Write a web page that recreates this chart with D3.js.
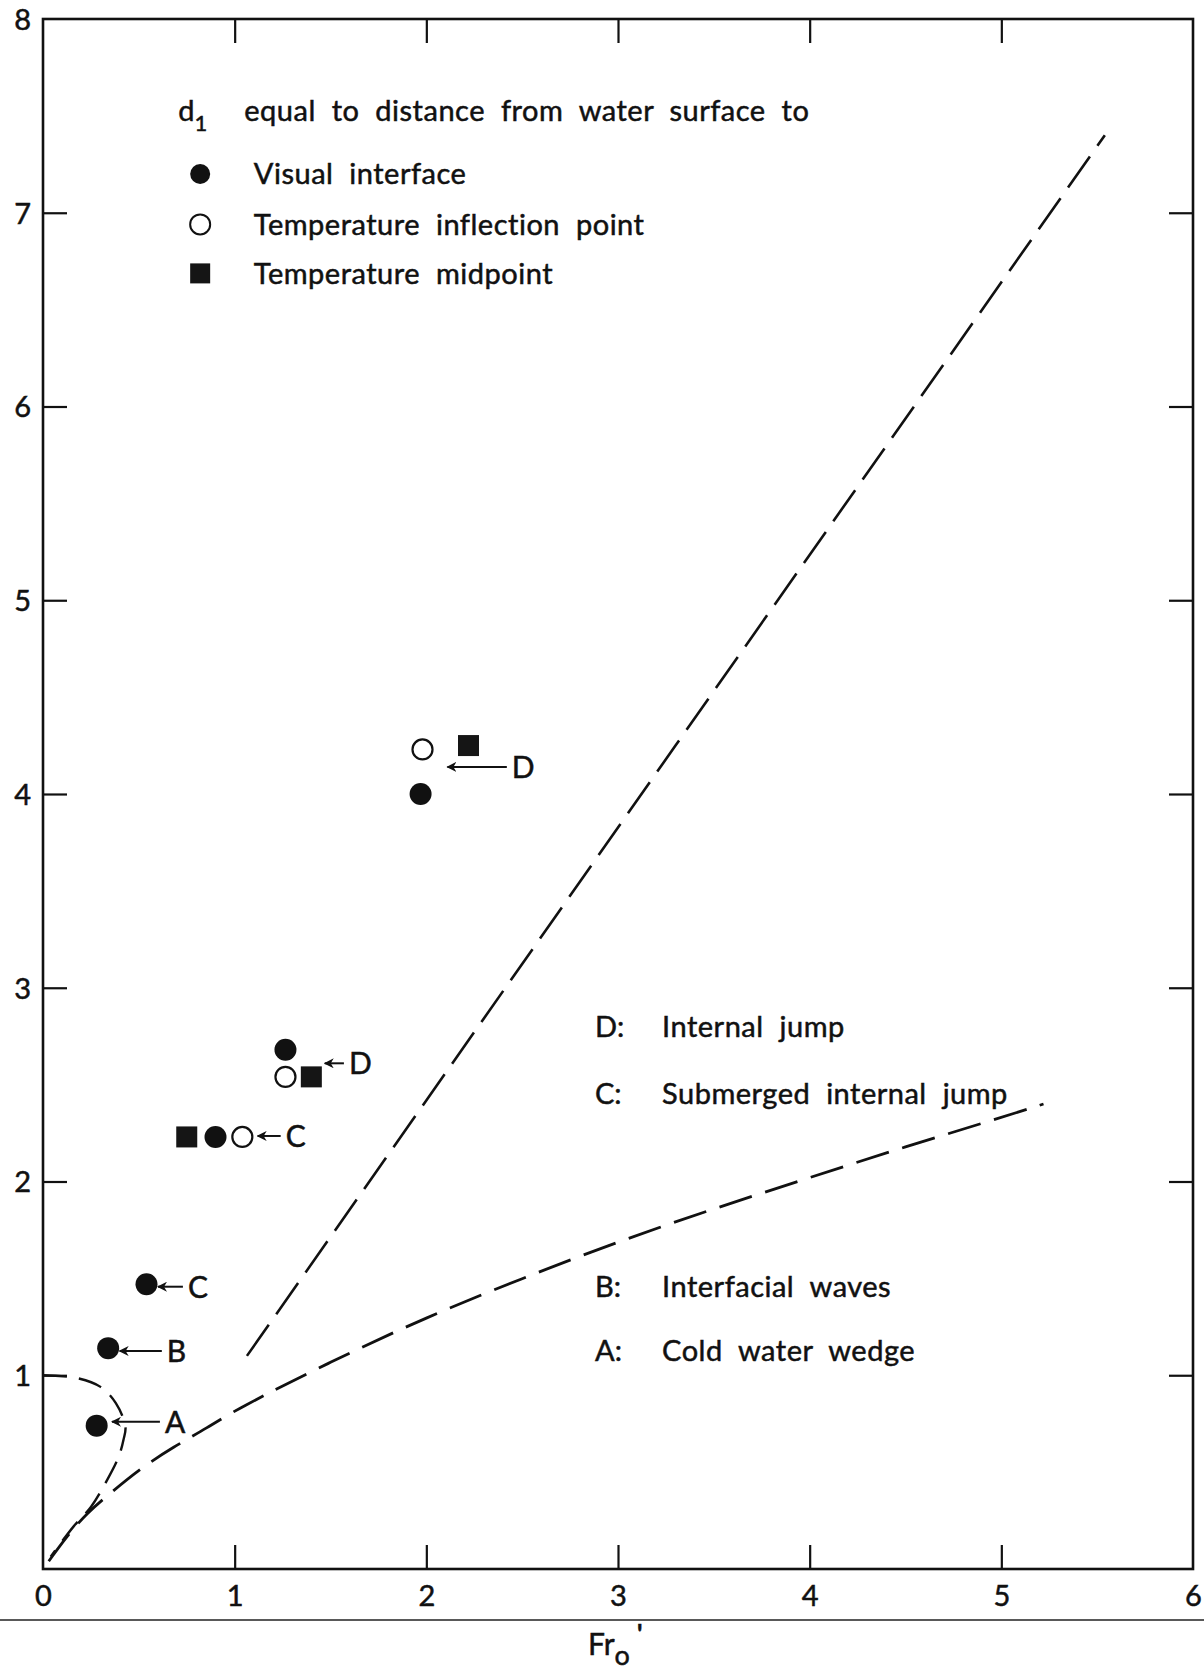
<!DOCTYPE html>
<html>
<head>
<meta charset="utf-8">
<script src="https://cdn.jsdelivr.net/npm/d3@7"></script>
<style>
  body { margin: 0; background: #fff; }
  svg text { font-family: "Lato", "DejaVu Sans", sans-serif; fill: #111; stroke: #111; stroke-width: 0.5px; }
</style>
</head>
<body>
<div id="chart"></div>
<script>
// values (x = Fr_o', y = depth ratio)
var xTicks = [0, 1, 2, 3, 4, 5, 6];
var yTicks = [1, 2, 3, 4, 5, 6, 7, 8];

var visualInterface = [[1.97, 4.00], [1.265, 2.68], [0.90, 2.23], [0.54, 1.47], [0.34, 1.14], [0.28, 0.74]];
var inflectionPoint = [[1.98, 4.23], [1.265, 2.54], [1.04, 2.23]];
var tempMidpoint = [[2.22, 4.25], [1.40, 2.54], [0.75, 2.23]];

// dashed boundary curves
var upperBoundary = [[1.064, 1.10], [3.30, 4.25], [5.54, 7.40]];
var lowerBoundary = [[0.03, 0.04], [0.125, 0.17], [0.23, 0.29], [0.35, 0.39], [0.51, 0.52], [0.68, 0.63],
  [0.86, 0.73], [1.0, 0.82], [1.5, 1.07], [2.0, 1.30], [2.5, 1.50], [3.0, 1.69], [3.5, 1.86],
  [4.0, 2.02], [4.5, 2.18], [5.0, 2.33], [5.22, 2.40]];
var wedgeBoundary = [[0.0, 1.0], [0.18, 0.985], [0.30, 0.94], [0.38, 0.856], [0.43, 0.735], [0.42, 0.667],
  [0.395, 0.58], [0.335, 0.46], [0.25, 0.32], [0.16, 0.22], [0.04, 0.064]];

// point labels with arrows: [label, arrow start x, arrow end x, y]
var pointLabels = [
  ["D", 2.42, 2.11, 4.14],
  ["D", 1.57, 1.47, 2.61],
  ["C", 1.24, 1.12, 2.235],
  ["C", 0.73, 0.60, 1.457],
  ["B", 0.62, 0.40, 1.125],
  ["A", 0.61, 0.36, 0.76]
];

var regionKeys = ["D:", "C:", "B:", "A:"];
var regionNames = ["Internal jump", "Submerged internal jump", "Interfacial waves", "Cold water wedge"];
var regionY = [2.80, 2.455, 1.46, 1.125];

var legendNames = ["Visual interface", "Temperature inflection point", "Temperature midpoint"];

var W = 1204, H = 1673;
var margin = {top: 19, right: 11, bottom: 104, left: 43},
    width = W - margin.left - margin.right,
    height = H - margin.top - margin.bottom;

var svg = d3.select("#chart").append("svg")
  .attr("width", W)
  .attr("height", H);

var g = svg.append("g")
  .attr("transform", "translate(" + margin.left + "," + margin.top + ")");

var x = d3.scaleLinear().domain([0, 6]).range([0, width]);
var y = d3.scaleLinear().domain([0, 8]).range([height, 0]);

var tickLen = 24;

// bottom axis, ticks pointing in
var axBottom = g.append("g")
  .attr("transform", "translate(0," + height + ")")
  .call(d3.axisBottom(x).tickValues(xTicks).tickSize(-tickLen).tickPadding(16).tickFormat(d3.format("d")));
// left axis
var axLeft = g.append("g")
  .call(d3.axisLeft(y).tickValues(yTicks).tickSize(-tickLen).tickPadding(12).tickFormat(d3.format("d")));
// top / right, ticks only
var axTop = g.append("g")
  .call(d3.axisTop(x).tickValues([1, 2, 3, 4, 5]).tickSize(-tickLen).tickFormat(""));
var axRight = g.append("g")
  .attr("transform", "translate(" + width + ",0)")
  .call(d3.axisRight(y).tickValues([1, 2, 3, 4, 5, 6, 7]).tickSize(-tickLen).tickFormat(""));

[axBottom, axLeft, axTop, axRight].forEach(function(a) {
  a.select(".domain").remove();
  a.selectAll(".tick line").attr("stroke", "#111").attr("stroke-width", 2.2);
  a.selectAll("text").style("font-size", "29px").attr("fill", "#111");
});
axBottom.selectAll(".tick").filter(function(d) { return d === 0 || d === 6; }).select("line").remove();
axLeft.selectAll(".tick").filter(function(d) { return d === 8; }).select("line").remove();
axLeft.selectAll(".tick text").attr("dy", "0.36em");

// frame
g.append("rect")
  .attr("x", 0).attr("y", 0)
  .attr("width", width).attr("height", height)
  .attr("fill", "none")
  .attr("stroke", "#111")
  .attr("stroke-width", 2.6);

// rule under the axis labels
svg.append("line")
  .attr("x1", 0).attr("x2", W)
  .attr("y1", 1620).attr("y2", 1620)
  .attr("stroke", "#222").attr("stroke-width", 1.5);

// x axis title Fr_o'
var xt = svg.append("text")
  .attr("x", margin.left + x(3) - 30)
  .attr("y", 1655)
  .style("font-size", "30px");
xt.append("tspan").text("Fr");
xt.append("tspan").attr("dy", 10).style("font-size", "27px").text("o");
xt.append("tspan").attr("dy", -22).attr("dx", 7).style("font-size", "26px").style("font-weight", "bold").text("'");

// dashed curves
var line = d3.line()
  .x(function(d) { return x(d[0]); })
  .y(function(d) { return y(d[1]); });

g.append("path")
  .datum(upperBoundary)
  .attr("d", line)
  .attr("fill", "none").attr("stroke", "#111").attr("stroke-width", 2.6)
  .attr("stroke-dasharray", "38,13");

g.append("path")
  .datum(lowerBoundary)
  .attr("d", d3.line().x(function(d) { return x(d[0]); }).y(function(d) { return y(d[1]); }).curve(d3.curveBasis))
  .attr("fill", "none").attr("stroke", "#111").attr("stroke-width", 2.8)
  .attr("stroke-dasharray", "34,14");

g.append("path")
  .datum(wedgeBoundary)
  .attr("d", d3.line().x(function(d) { return x(d[0]); }).y(function(d) { return y(d[1]); }).curve(d3.curveCatmullRom))
  .attr("fill", "none").attr("stroke", "#111").attr("stroke-width", 2.4)
  .attr("stroke-dasharray", "24,12");

// points
var r = 11, sq = 21;
g.selectAll(".vis")
  .data(visualInterface)
  .enter().append("circle")
  .attr("cx", function(d) { return x(d[0]); })
  .attr("cy", function(d) { return y(d[1]); })
  .attr("r", r)
  .attr("fill", "#111");

g.selectAll(".infl")
  .data(inflectionPoint)
  .enter().append("circle")
  .attr("cx", function(d) { return x(d[0]); })
  .attr("cy", function(d) { return y(d[1]); })
  .attr("r", r - 1)
  .attr("fill", "#fff")
  .attr("stroke", "#111")
  .attr("stroke-width", 2.2);

g.selectAll(".mid")
  .data(tempMidpoint)
  .enter().append("rect")
  .attr("x", function(d) { return x(d[0]) - sq / 2; })
  .attr("y", function(d) { return y(d[1]) - sq / 2; })
  .attr("width", sq).attr("height", sq)
  .attr("fill", "#151515");

// arrows + letters
svg.append("defs").append("marker")
  .attr("id", "arr")
  .attr("viewBox", "0 0 10 10")
  .attr("refX", 9).attr("refY", 5)
  .attr("markerWidth", 5).attr("markerHeight", 5)
  .attr("orient", "auto")
  .append("path")
  .attr("d", "M0,0 L10,5 L0,10 L3,5 z")
  .attr("fill", "#111");

g.selectAll(".arrow")
  .data(pointLabels)
  .enter().append("line")
  .attr("x1", function(d) { return x(d[1]); })
  .attr("x2", function(d) { return x(d[2]); })
  .attr("y1", function(d) { return y(d[3]); })
  .attr("y2", function(d) { return y(d[3]); })
  .attr("stroke", "#111").attr("stroke-width", 2)
  .attr("marker-end", "url(#arr)");

g.selectAll(".plabel")
  .data(pointLabels)
  .enter().append("text")
  .attr("x", function(d) { return x(d[1]) + 5; })
  .attr("y", function(d) { return y(d[3]); })
  .attr("dy", "0.36em")
  .style("font-size", "30px")
  .text(function(d) { return d[0]; });

// region key on the right
var txtSize = "29px";
g.selectAll(".rkey")
  .data(regionKeys)
  .enter().append("text")
  .attr("x", x(2.88))
  .attr("y", function(d, i) { return y(regionY[i]); })
  .attr("dy", "0.36em")
  .style("font-size", txtSize)
  .text(function(d) { return d; });

g.selectAll(".rname")
  .data(regionNames)
  .enter().append("text")
  .attr("x", x(3.23))
  .attr("y", function(d, i) { return y(regionY[i]); })
  .attr("dy", "0.36em")
  .style("font-size", txtSize)
  .style("letter-spacing", "0.5px")
  .style("word-spacing", "8px")
  .text(function(d) { return d; });

// legend, top left
var head = g.append("text")
  .attr("x", x(0.705))
  .attr("y", y(7.53))
  .attr("dy", "0.36em")
  .style("font-size", txtSize);
head.append("tspan").text("d");
head.append("tspan").attr("dy", 10).style("font-size", "22px").text("1");
head.append("tspan").attr("x", x(1.05)).attr("dy", -10)
  .style("letter-spacing", "0.5px").style("word-spacing", "8px")
  .text("equal to distance from water surface to");

var legY = [7.20, 6.94, 6.687];
var lg = g.append("g");
lg.append("circle").attr("cx", x(0.82)).attr("cy", y(legY[0])).attr("r", 10).attr("fill", "#111");
lg.append("circle").attr("cx", x(0.82)).attr("cy", y(legY[1])).attr("r", 10)
  .attr("fill", "#fff").attr("stroke", "#111").attr("stroke-width", 2);
lg.append("rect").attr("x", x(0.82) - 10).attr("y", y(legY[2]) - 10).attr("width", 20).attr("height", 20).attr("fill", "#151515");

lg.selectAll("text")
  .data(legendNames)
  .enter().append("text")
  .attr("x", x(1.1))
  .attr("y", function(d, i) { return y(legY[i]); })
  .attr("dy", "0.36em")
  .style("font-size", txtSize)
  .style("letter-spacing", "0.5px")
  .style("word-spacing", "8px")
  .text(function(d) { return d; });
</script>
</body>
</html>
